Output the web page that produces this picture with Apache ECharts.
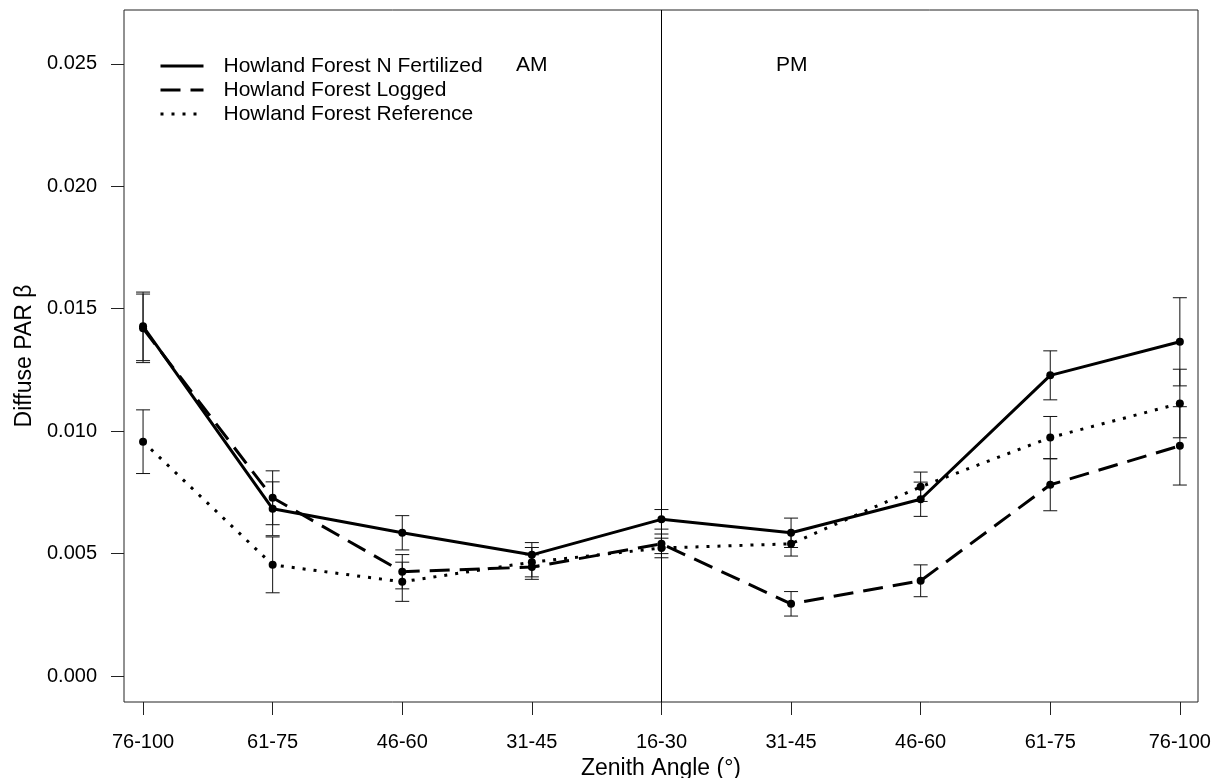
<!DOCTYPE html>
<html>
<head>
<meta charset="utf-8">
<title>Diffuse PAR beta</title>
<script src="https://cdn.jsdelivr.net/npm/echarts@6/dist/echarts.min.js"></script>
<style>
html,body{margin:0;padding:0;background:#fff;}
#chart{width:1224px;height:778px;}
</style>
</head>
<body>
<div id="chart"></div>
<script>
// zenith angle classes, AM (left) -> noon -> PM (right)
var cats=['76-100','61-75','46-60','31-45','16-30','31-45','46-60','61-75','76-100'];
var yTicks=[0,0.005,0.010,0.015,0.020,0.025];

// Howland Forest N Fertilized
var fert=[0.01428,0.00683,0.00585,0.00495,0.00640,0.00585,0.00722,0.01228,0.01365];
var fertErr=[0.0014,0.0011,0.0007,0.0005,0.0004,0.0006,0.0007,0.0010,0.0018];
// Howland Forest Logged
var logged=[0.01420,0.00728,0.00426,0.00445,0.00540,0.00295,0.00389,0.00781,0.00940];
var loggedErr=[0.0014,0.0011,0.0007,0.0005,0.0004,0.0005,0.00065,0.00106,0.0016];
// Howland Forest Reference
var ref=[0.00957,0.00454,0.00385,0.00465,0.00523,0.00540,0.00773,0.00974,0.01113];
var refErr=[0.0013,0.00114,0.0008,0.0006,0.0004,0.0005,0.0006,0.00086,0.0014];

var font='Liberation Sans, Arial, sans-serif';

function pts(arr){
    var out=[];
    for(var i=0;i<arr.length;i++){
        out.push([i,arr[i]]);
    }
    return out;
}
function bars(arr,err){
    var out=[];
    for(var i=0;i<arr.length;i++){
        out.push([i,arr[i]-err[i],arr[i]+err[i]]);
    }
    return out;
}

/*error bars, drawn through the axes*/
function errRender(params,api){
    var x=api.value(0);
    var lo=api.coord([x,api.value(1)]);
    var hi=api.coord([x,api.value(2)]);
    var w=7;
    var st={stroke:'#111',lineWidth:1};
    return {
        type:'group',
        children:[
            {type:'line',shape:{x1:lo[0],y1:lo[1],x2:hi[0],y2:hi[1]},style:st},
            {type:'line',shape:{x1:lo[0]-w,y1:lo[1],x2:lo[0]+w,y2:lo[1]},style:st},
            {type:'line',shape:{x1:hi[0]-w,y1:hi[1],x2:hi[0]+w,y2:hi[1]},style:st}
        ]
    };
}

function lineSeries(name,arr,dash){
    return {
        name:name,
        type:'line',
        data:pts(arr),
        symbol:'circle',
        symbolSize:8,
        itemStyle:{color:'#000'},
        lineStyle:{color:'#000',width:3,type:dash},
        z:3,
        animation:false
    };
}

var names=['Howland Forest N Fertilized','Howland Forest Logged','Howland Forest Reference'];

var s1=lineSeries(names[0],fert,'solid');
s1.markLine={
    silent:true,
    symbol:'none',
    label:{show:false},
    lineStyle:{color:'#000',width:1,type:'solid'},
    data:[{xAxis:4}],
    animation:false
};

var option={
    backgroundColor:'#fff',
    animation:false,
    grid:{left:124,right:26,top:10,bottom:76,outerBoundsMode:'none',containLabel:false,show:true,borderColor:'#222',borderWidth:1,backgroundColor:'transparent'},
    legend:{
        orient:'vertical',
        left:159,
        top:55,
        padding:0,
        itemWidth:43,
        itemHeight:14,
        itemGap:2,
        selectedMode:false,
        data:names,
        itemStyle:{opacity:0},
        lineStyle:{width:3},
        textStyle:{fontFamily:font,fontSize:21,lineHeight:22,color:'#000',padding:[0,0,0,15]}
    },
    graphic:[
        {type:'text',left:516,top:55,style:{text:'AM',font:'21px '+font,fill:'#000'}},
        {type:'text',left:776,top:55,style:{text:'PM',font:'21px '+font,fill:'#000'}}
    ],
    xAxis:{
        type:'value',
        min:-0.147,
        max:8.14,
        splitLine:{show:false},
        axisLine:{show:false,onZero:false},
        axisTick:{show:true,inside:false,length:13,lineStyle:{color:'#222'},customValues:[0,1,2,3,4,5,6,7,8]},
        axisLabel:{
            customValues:[0,1,2,3,4,5,6,7,8],
            margin:30,
            fontFamily:font,fontSize:20,color:'#000',
            formatter:function(v){return cats[Math.round(v)];}
        },
        name:'Zenith Angle (°)',
        nameLocation:'middle',
        nameGap:53,
        nameTextStyle:{fontFamily:font,fontSize:23,color:'#000'}
    },
    yAxis:{
        type:'value',
        min:-0.00106,
        max:0.0272,
        splitLine:{show:false},
        axisLine:{show:false,onZero:false},
        axisTick:{show:true,inside:false,length:13,lineStyle:{color:'#222'},customValues:yTicks},
        axisLabel:{
            customValues:yTicks,
            margin:27,
            fontFamily:font,fontSize:20,color:'#000',
            formatter:function(v){return v.toFixed(3);}
        },
        name:'Diffuse PAR β',
        nameLocation:'middle',
        nameGap:88,
        nameTextStyle:{fontFamily:font,fontSize:23,color:'#000'}
    },
    series:[
        s1,
        lineSeries(names[1],logged,[20,10]),
        lineSeries(names[2],ref,[3,8]),
        {type:'custom',renderItem:errRender,data:bars(fert,fertErr),z:2,silent:true},
        {type:'custom',renderItem:errRender,data:bars(logged,loggedErr),z:2,silent:true},
        {type:'custom',renderItem:errRender,data:bars(ref,refErr),z:2,silent:true}
    ]
};

var myChart=echarts.init(document.getElementById('chart'));
myChart.setOption(option);
</script>
</body>
</html>
